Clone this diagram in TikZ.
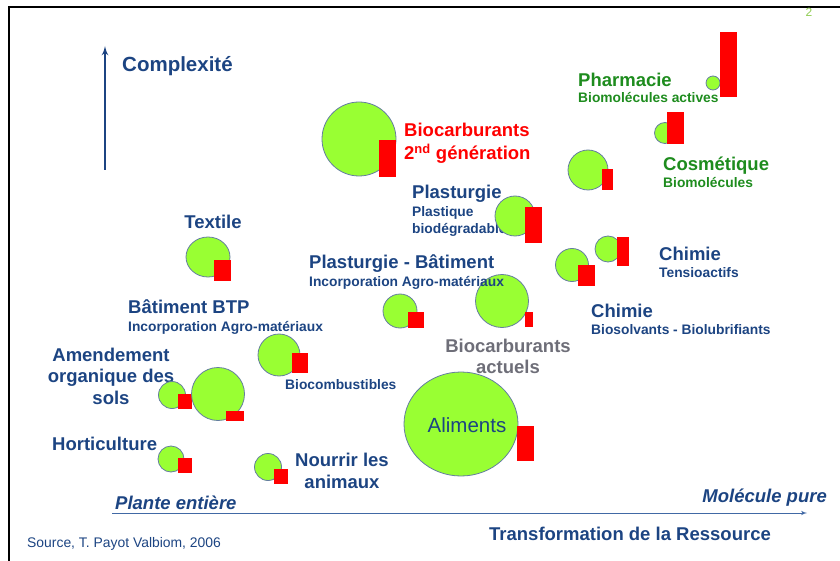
\documentclass[tikz,border=0pt]{standalone}
\usepackage{fontspec}
\setmainfont{Liberation Sans}
\usetikzlibrary{arrows,positioning,shapes.geometric}
\definecolor{bleu}{RGB}{28,68,130}
\definecolor{vertfonce}{RGB}{30,140,30}
\definecolor{vertbulle}{RGB}{153,255,51}
\definecolor{bordbulle}{RGB}{100,125,160}
\definecolor{gristxt}{RGB}{110,110,120}
\definecolor{axe}{RGB}{65,105,165}
\tikzstyle{line} = [draw, -latex']
\tikzstyle{bulle} = [circle, fill=vertbulle, draw=bordbulle, line width=0.8pt, inner sep=0pt]
\tikzstyle{barre} = [rectangle, fill=red, inner sep=0pt, anchor=north west]
\tikzstyle{titre} = [font=\fontsize{18.5}{21.5}\selectfont\bfseries, text=bleu, inner sep=0pt]
\tikzstyle{soustitre} = [font=\fontsize{13.8}{17}\selectfont\bfseries, text=bleu, inner sep=0pt]

\begin{document}
\begin{tikzpicture}[x=1pt, y=-1pt]

\useasboundingbox (0,0) rectangle (840,561);
\draw [line width=2.5pt] (9,561) -- (9,7) -- (840,7);
\node (numero) [font=\fontsize{12}{12}\selectfont, text=vertbulle!60!gray, inner sep=0pt] at (809,12) {2};

% axes
\coordinate (ybas) at (105,170);
\coordinate (yhaut) at (105,46);
\path [line, draw=bleu, line width=2.2pt] (ybas) -- (yhaut);
\node (complexite) [titre, font=\fontsize{20.5}{22}\selectfont\bfseries, anchor=base west] at (122,72) {Complexité};

\coordinate (xgauche) at (112,513);
\coordinate (xdroite) at (807,513);
\path [line, draw=axe, line width=1pt] (xgauche) -- (xdroite);
\node (plante) [titre, font=\fontsize{18.5}{21}\selectfont\bfseries\itshape, anchor=base west] at (115,509) {Plante entière};
\node (molecule) [titre, font=\fontsize{18.5}{21}\selectfont\bfseries\itshape, anchor=base east] at (827,502) {Molécule pure};
\node (transfo) [titre, anchor=base] at (630,540) {Transformation de la Ressource};
\node (source) [font=\fontsize{13.9}{16}\selectfont, text=bleu, inner sep=0pt, anchor=base west] at (27,547) {Source, T. Payot Valbiom, 2006};

% bulles et barres
\node (bio2) [bulle, minimum size=74pt] at (359,139) {};
\node (bio2b) [barre, minimum width=17pt, minimum height=37pt] at (379,140) {};
\node (bio2t) [titre, text=red, anchor=base west] at (404,137) {Biocarburants};
\node (bio2s) [titre, text=red, anchor=base west] at (404,160) {2\textsuperscript{nd} génération};

\node (pharma) [bulle, minimum size=14pt] at (713,83) {};
\node (pharmab) [barre, minimum width=17pt, minimum height=65pt] at (720,32) {};
\node (pharmat) [titre, text=vertfonce, anchor=base west] at (578,87) {Pharmacie};
\node (pharmas) [soustitre, text=vertfonce, anchor=base west] at (578,103) {Biomolécules actives};

\node (cosm1) [bulle, minimum size=21pt] at (665,133) {};
\node (cosm1b) [barre, minimum width=17pt, minimum height=32pt] at (667,112) {};
\node (cosm2) [bulle, minimum size=40pt] at (588,170) {};
\node (cosm2b) [barre, minimum width=11pt, minimum height=21pt] at (602,169) {};
\node (cosmt) [titre, text=vertfonce, anchor=base west] at (663,171) {Cosmétique};
\node (cosms) [soustitre, text=vertfonce, anchor=base west] at (663,188) {Biomolécules};

\node (plastt) [titre, anchor=base west] at (412,199) {Plasturgie};
\node (plasts) [soustitre, anchor=base west] at (412,217) {Plastique};
\node (plasts2) [soustitre, anchor=base west] at (412,234) {biodégradable};
\node (plast) [bulle, minimum size=40pt] at (515,216) {};
\node (plastb) [barre, minimum width=17pt, minimum height=36pt] at (525,207) {};

\node (tensio) [bulle, minimum size=26pt] at (608,249) {};
\node (tensiob) [barre, minimum width=12pt, minimum height=29pt] at (617,237) {};
\node (tensiot) [titre, anchor=base west] at (659,261) {Chimie};
\node (tensios) [soustitre, anchor=base west] at (659,277) {Tensioactifs};

\node (solv) [bulle, minimum size=33pt] at (572,265) {};
\node (solvb) [barre, minimum width=17pt, minimum height=21pt] at (578,265) {};
\node (solvt) [titre, anchor=base west] at (591,317) {Chimie};
\node (solvs) [soustitre, anchor=base west] at (591,334) {Biosolvants - Biolubrifiants};

\node (actuels) [bulle, minimum size=53pt] at (502,301) {};
\node (actuelsb) [barre, minimum width=8pt, minimum height=15pt] at (525,312) {};
\node (actuelst) [titre, text=gristxt, anchor=base] at (508,352) {Biocarburants};
\node (actuelss) [titre, text=gristxt, anchor=base] at (508,373) {actuels};

\node (alim) [bulle, ellipse, minimum width=114pt, minimum height=104pt] at (461,424) {};
\node (alimb) [barre, minimum width=17pt, minimum height=35pt] at (517,426) {};
\node (alimt) [font=\fontsize{20.5}{22}\selectfont, text=bleu, inner sep=0pt, anchor=base] at (467,432) {Aliments};

\node (textt) [titre, anchor=base] at (213,229) {Textile};
\node (text) [bulle, ellipse, minimum width=44pt, minimum height=40pt] at (208,257) {};
\node (textb) [barre, minimum width=17pt, minimum height=21pt] at (214,260) {};

\node (btpt) [titre, anchor=base west] at (128,313) {Bâtiment BTP};
\node (btps) [soustitre, anchor=base west] at (128,331) {Incorporation Agro-matériaux};

\node (comb) [bulle, minimum size=42pt] at (279,355) {};
\node (combb) [barre, minimum width=16pt, minimum height=20pt] at (292,353) {};
\node (combt) [soustitre, anchor=base west] at (285,389) {Biocombustibles};

\node (plbatt) [titre, anchor=base west] at (309,269) {Plasturgie - Bâtiment};
\node (plbats) [soustitre, anchor=base west] at (309,287) {Incorporation Agro-matériaux};
\node (plbat) [bulle, minimum size=34pt] at (400,311) {};
\node (plbatb) [barre, minimum width=16pt, minimum height=16pt] at (408,312) {};

\node (amendt) [titre, anchor=base] at (111,361) {Amendement};
\node (amends) [titre, anchor=base] at (111,382) {organique des};
\node (amends2) [titre, anchor=base] at (111,404) {sols};
\node (amend1) [bulle, minimum size=27pt] at (172,395) {};
\node (amend1b) [barre, minimum width=14pt, minimum height=15pt] at (178,394) {};
\node (amend2) [bulle, minimum size=53pt] at (218,394) {};
\node (amend2b) [barre, minimum width=18pt, minimum height=10pt] at (226,411) {};

\node (hortit) [titre, anchor=base west] at (52,450) {Horticulture};
\node (horti) [bulle, minimum size=26pt] at (171,459) {};
\node (hortib) [barre, minimum width=14pt, minimum height=15pt] at (178,458) {};

\node (nourr) [bulle, minimum size=27pt] at (268,467) {};
\node (nourrb) [barre, minimum width=14pt, minimum height=15pt] at (274,469) {};
\node (nourrt) [titre, anchor=base] at (342,466) {Nourrir les};
\node (nourrs) [titre, anchor=base] at (342,488) {animaux};

\end{tikzpicture}
\end{document}
